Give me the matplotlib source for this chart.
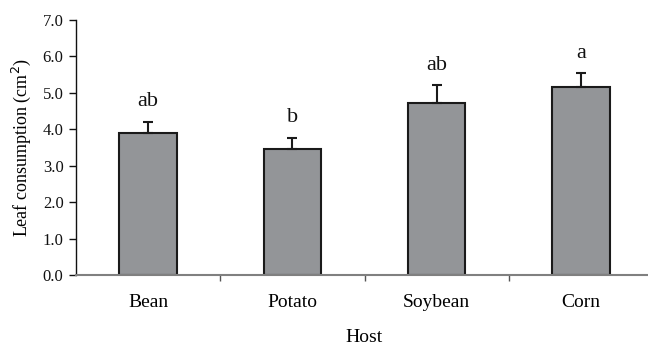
import matplotlib
matplotlib.use("Agg")
import matplotlib.pyplot as plt
import numpy as np

# data
hosts = ["Bean", "Potato", "Soybean", "Corn"]
consumption = [3.91, 3.45, 4.73, 5.17]
sem = [0.30, 0.32, 0.48, 0.38]
groups = ["ab", "b", "ab", "a"]
yticks = [0.0, 1.0, 2.0, 3.0, 4.0, 5.0, 6.0, 7.0]

plt.rcParams['font.family'] = ['Liberation Serif', 'DejaVu Serif']

fig = plt.figure(figsize=(6.48, 3.45), dpi=100)
ax = fig.add_axes([76 / 648, 70 / 345, 577 / 648, 255 / 345])

x = np.arange(len(hosts))
ax.bar(x, consumption, width=0.4, color='#939598', edgecolor='#1a1a1a', linewidth=1.5, zorder=2)
ax.errorbar(x, consumption, yerr=[np.zeros(len(sem)), sem], fmt='none',
            ecolor='#1a1a1a', elinewidth=1.5, capsize=3.8, capthick=1.5, zorder=3)

# significance letters above the error bars
for xi, v, e, g in zip(x, consumption, sem, groups):
    ax.annotate(g, (xi, v + e), xytext=(0, 11), textcoords='offset points',
                ha='center', va='baseline', fontsize=16, color='#111111')

ax.set_xlim(-0.5, 3.5)
ax.set_ylim(0, 7)
ax.set_yticks(yticks)
ax.set_yticklabels([f"{t:.1f}" for t in yticks], fontsize=12, color='#111111')
ax.set_xticks(x)
ax.set_xticklabels(hosts, fontsize=14)
ax.set_xticks(x[:-1] + 0.5, minor=True)
ax.tick_params(axis='x', which='major', length=0, pad=14)
ax.tick_params(axis='x', which='minor', length=4, width=1, color='#555555', direction='out')
ax.tick_params(axis='y', length=5, width=1, color='#111111', pad=4)

for s in ['top', 'right']:
    ax.spines[s].set_visible(False)
ax.spines['left'].set_linewidth(1.0)
ax.spines['left'].set_color('#111111')
ax.spines['bottom'].set_linewidth(1.5)
ax.spines['bottom'].set_color('#808080')

ax.set_ylabel("Leaf consumption (cm$^2$)", fontsize=13, labelpad=7)
ax.set_xlabel("Host", fontsize=14, labelpad=13)

fig.savefig("out.png", dpi=100, facecolor='white')
